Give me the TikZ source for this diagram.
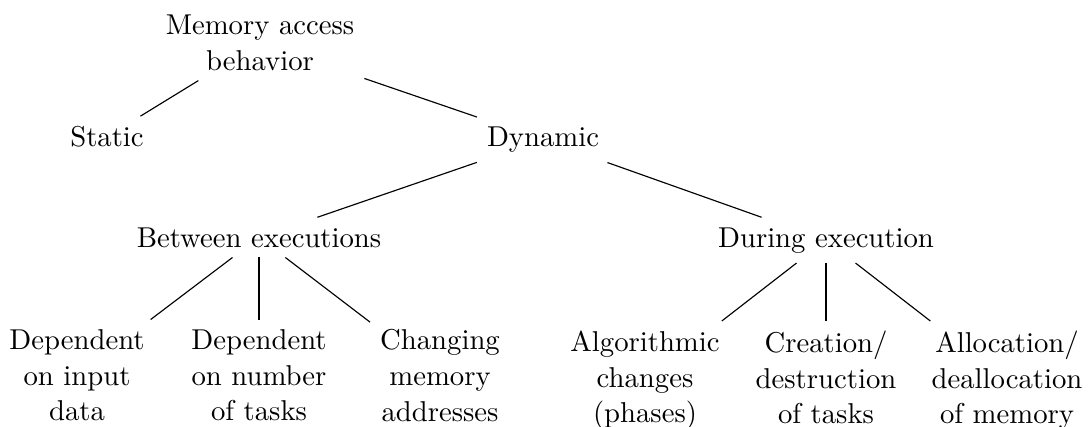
\documentclass[tikz,border=0pt]{standalone}
\begin{document}
\begin{tikzpicture}[x=0.3484pt,y=-0.3484pt,
  tn/.style={align=center, font=\fontsize{10}{12.4}\selectfont},
  edge/.style={line width=0.4pt}]
\useasboundingbox (0,0) rectangle (1089,426);
\node[tn, anchor=north] (mem) at (260,4.8) {Memory access\\behavior};
\node[tn, anchor=base] (static) at (107,146.5) {Static};
\node[tn, anchor=base] (dyn) at (543,146.5) {Dynamic};
\node[tn, anchor=base] (betw) at (259,247) {Between executions};
\node[tn, anchor=base] (dur) at (826,247) {During execution};
\node[tn, anchor=north] (l1) at (77,319.5) {Dependent\\on input\\data};
\node[tn, anchor=north] (l2) at (259,319.5) {Dependent\\on number\\of tasks};
\node[tn, anchor=north] (l3) at (440,319.5) {Changing\\memory\\addresses};
\node[tn, anchor=north] (l4) at (645,321) {Algorithmic\\changes\\(phases)};
\node[tn, anchor=north] (l5) at (826,321) {Creation/\\destruction\\of tasks};
\node[tn, anchor=north] (l6) at (1007,321) {Allocation/\\deallocation\\of memory};
\draw[edge] (mem) -- (static);
\draw[edge] (mem) -- (dyn);
\draw[edge] (dyn) -- (betw);
\draw[edge] (dyn) -- (dur);
\draw[edge] (betw) -- (l1);
\draw[edge] (betw) -- (l2);
\draw[edge] (betw) -- (l3);
\draw[edge] (dur) -- (l4);
\draw[edge] (dur) -- (l5);
\draw[edge] (dur) -- (l6);
\end{tikzpicture}
\end{document}
